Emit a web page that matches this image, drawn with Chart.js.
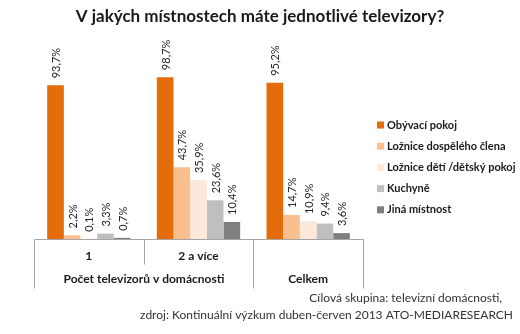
<!DOCTYPE html>
<html>
<head>
<meta charset="utf-8">
<script src="https://cdn.jsdelivr.net/npm/chart.js@4/dist/chart.umd.min.js"></script>
<style>
  html, body { margin: 0; padding: 0; background: #fff; }
  #wrap { width: 520px; height: 334px; position: relative; }
</style>
</head>
<body>
<div id="wrap"><canvas id="c" width="520" height="334"></canvas></div>
<script>
// Categories (first row of the axis table) and the group row beneath
const categories = ['1', '2 a více', 'Celkem'];
const groupLabels = ['Počet televizorů v domácnosti', 'Celkem'];

// Share of households (%) with a TV in each room
const obyvaciPokoj = [93.7, 98.7, 95.2];
const loznieDospely = [2.2, 43.7, 14.7];
const loznieDeti = [0.1, 35.9, 10.9];
const kuchyne = [3.3, 23.6, 9.4];
const jinaMistnost = [0.7, 10.4, 3.6];

const seriesNames = ['Obývací pokoj', 'Ložnice dospělého člena', 'Ložnice dětí /dětský pokoj', 'Kuchyně', 'Jiná místnost'];
const seriesColors = ['#E46C0A', '#FABF8F', '#FDE9D9', '#BFBFBF', '#7F7F7F'];

const titleText = 'V jakých místnostech máte jednotlivé televizory?';
const sourceLines = ['Cílová skupina: televizní domácnosti,', 'zdroj: Kontinuální výzkum duben-červen 2013 ATO-MEDIARESEARCH'];

const FONT = 'Lato, "Open Sans", sans-serif';
const fmt = v => v.toFixed(1).replace('.', ',') + '%';

const decor = {
  id: 'decor',
  afterDatasetsDraw(chart) {
    const ctx = chart.ctx;
    const area = chart.chartArea;
    const xs = chart.scales.x;

    // value labels, rotated, above each bar
    ctx.save();
    ctx.fillStyle = '#262626';
    ctx.font = '11px ' + FONT;
    chart.data.datasets.forEach((ds, di) => {
      chart.getDatasetMeta(di).data.forEach((bar, i) => {
        ctx.save();
        ctx.translate(bar.x + 1, bar.y - 7);
        ctx.rotate(-Math.PI / 2);
        ctx.textAlign = 'left';
        ctx.textBaseline = 'middle';
        ctx.fillText(fmt(ds.data[i]), 0, 0);
        ctx.restore();
      });
    });
    ctx.restore();
  },
  afterDraw(chart) {
    const ctx = chart.ctx;
    const area = chart.chartArea;
    const xs = chart.scales.x;
    const n = categories.length;
    const step = (area.right - area.left) / n;
    const edge = i => Math.round(area.left + step * i) + 0.5;
    const top = Math.round(area.bottom) + 0.5;
    const row1 = top + 25;
    const row2 = top + 49;

    ctx.save();
    // title
    ctx.fillStyle = '#1a1a1a';
    ctx.font = 'bold 17px ' + FONT;
    ctx.textAlign = 'center';
    ctx.textBaseline = 'middle';
    ctx.fillText(titleText, 260, 17);

    // axis table lines
    ctx.strokeStyle = '#A6A6A6';
    ctx.lineWidth = 1;
    ctx.beginPath();
    ctx.moveTo(edge(0), top); ctx.lineTo(edge(n), top);
    ctx.moveTo(edge(0), top); ctx.lineTo(edge(0), row2);
    ctx.moveTo(edge(1), top); ctx.lineTo(edge(1), row1);
    ctx.moveTo(edge(2), top); ctx.lineTo(edge(2), row2);
    ctx.moveTo(edge(3), top); ctx.lineTo(edge(3), row2);
    ctx.stroke();

    // category labels
    ctx.fillStyle = '#1a1a1a';
    ctx.font = 'bold 12px ' + FONT;
    ctx.fillText(categories[0], xs.getPixelForValue(0), top + 17);
    ctx.fillText(categories[1], xs.getPixelForValue(1), top + 17);
    ctx.fillText(groupLabels[0], (edge(0) + edge(2)) / 2, top + 40);
    ctx.fillText(groupLabels[1], xs.getPixelForValue(2), top + 40);

    // legend
    ctx.textAlign = 'left';
    ctx.font = 'bold 11px ' + FONT;
    seriesNames.forEach((name, i) => {
      const y = 125 + i * 21.2;
      ctx.fillStyle = seriesColors[i];
      ctx.fillRect(377, y - 3.5, 7, 7);
      ctx.fillStyle = '#1a1a1a';
      ctx.fillText(name, 387, y);
    });

    // source note
    ctx.textAlign = 'right';
    ctx.font = '12px ' + FONT;
    ctx.fillStyle = '#333333';
    ctx.fillText(sourceLines[0], 502, 298);
    ctx.fillText(sourceLines[1], 513, 315);
    ctx.restore();
  }
};

const seriesData = [obyvaciPokoj, loznieDospely, loznieDeti, kuchyne, jinaMistnost];

new Chart(document.getElementById('c'), {
  type: 'bar',
  data: {
    labels: categories,
    datasets: seriesData.map((d, i) => ({
      label: seriesNames[i],
      data: d,
      backgroundColor: seriesColors[i],
      borderWidth: 0,
      categoryPercentage: 0.76,
      barPercentage: 1.0
    }))
  },
  options: {
    responsive: false,
    animation: false,
    devicePixelRatio: 1,
    layout: { padding: { left: 34, right: 157, top: 75, bottom: 95 } },
    plugins: { legend: { display: false }, title: { display: false }, tooltip: { enabled: false } },
    scales: {
      x: { display: false },
      y: { display: false, min: 0, max: 100 }
    }
  },
  plugins: [decor]
});
</script>
</body>
</html>
